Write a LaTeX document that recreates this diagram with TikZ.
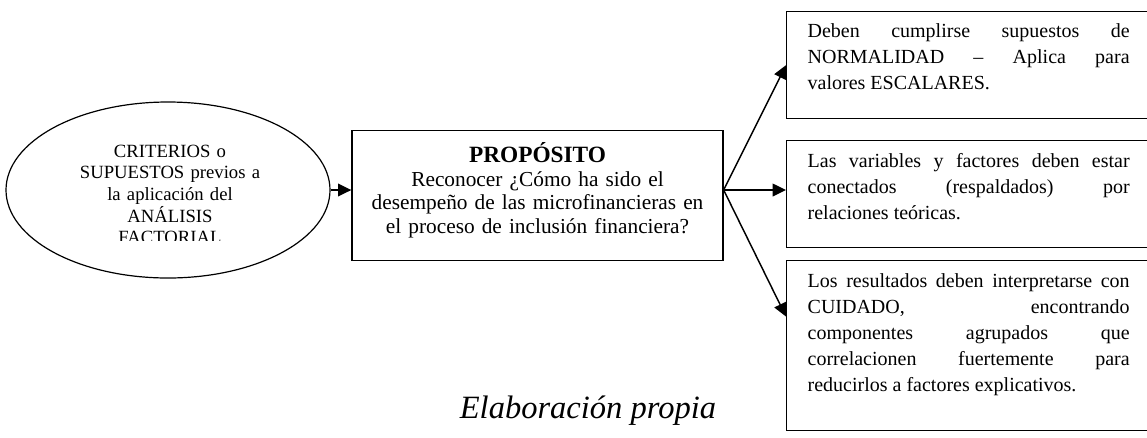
\documentclass[tikz,border=0pt]{standalone}
\usepackage{fontspec}
\setmainfont{Liberation Serif}
\usetikzlibrary{shapes}
\usetikzlibrary{positioning}
\usetikzlibrary{arrows.meta}
\usetikzlibrary{calc}
\tikzset{
    critnode/.style = {ellipse, draw=black, line width=0.9pt, inner sep=0pt, minimum width=243pt, minimum height=132pt},
    crittext/.style = {text width=150pt, align=center, inner sep=0pt, anchor=base, font=\fontsize{14}{16.3}\selectfont},
    propbox/.style = {rectangle, draw=black, line width=1pt, inner sep=0pt, minimum width=278.25pt, text width=260pt, align=center, anchor=north, font=\fontsize{16}{17.6}\selectfont},
    rbox/.style = {rectangle, draw=black, line width=1pt, inner xsep=15.75pt, inner ysep=0pt, text width=241.5pt, align=justify, anchor=north west, font=\fontsize{15}{19.4}\selectfont},
    edgen/.style = {-{Triangle[length=10pt,width=9.5pt]}, line width=1.1pt}
}
\begin{document}
\begin{tikzpicture}[x=0.75pt,y=-0.75pt]
\useasboundingbox (0,0) rectangle (1147,437);
%
\node[critnode] at (168,190) (crit) {};
\begin{scope}
\clip (0,0) rectangle (340,240);
\node[crittext] at (170,157) (crittxt) {CRITERIOS o\\ SUPUESTOS previos a\\ la aplicación del\\ ANÁLISIS\\ FACTORIAL};
\end{scope}
\node[propbox, text height=24pt, text depth=73.5pt] at (537.5,130) (prop) {{\fontsize{17.5}{17.6}\selectfont\bfseries PROPÓSITO}\\ Reconocer ¿Cómo ha sido el\\ desempeño de las microfinancieras en\\ el proceso de inclusión financiera?};
%
\node[rbox, text height=19.5pt, text depth=60.75pt] at (786,11) (norm) {Deben cumplirse supuestos de\linebreak NORMALIDAD – Aplica para\linebreak valores ESCALARES.};
\node[rbox, text height=20.25pt, text depth=60pt] at (786,140) (teor) {Las variables y factores deben estar\linebreak conectados (respaldados) por\linebreak relaciones teóricas.};
\node[rbox, text height=20.25pt, text depth=107.25pt] at (786,260) (cuid) {Los resultados deben interpretarse con\linebreak CUIDADO, encontrando\linebreak componentes agrupados que\linebreak correlacionen fuertemente para\linebreak reducirlos a factores explicativos.};
%
\coordinate (fork) at (prop.east |- crit.east);
\draw[edgen] (crit.east) -- (crit.east -| prop.west);
\draw[edgen] (fork) -- (norm.west);
\draw[edgen] (fork) -- (fork -| teor.west);
\draw[edgen] (fork) -- ($(cuid.north west)!0.33!(cuid.south west)$);

\node[font=\fontsize{24.4}{26}\selectfont\itshape, anchor=base] at (588,418) (fuente) {Elaboración propia};

\end{tikzpicture}
\end{document}
